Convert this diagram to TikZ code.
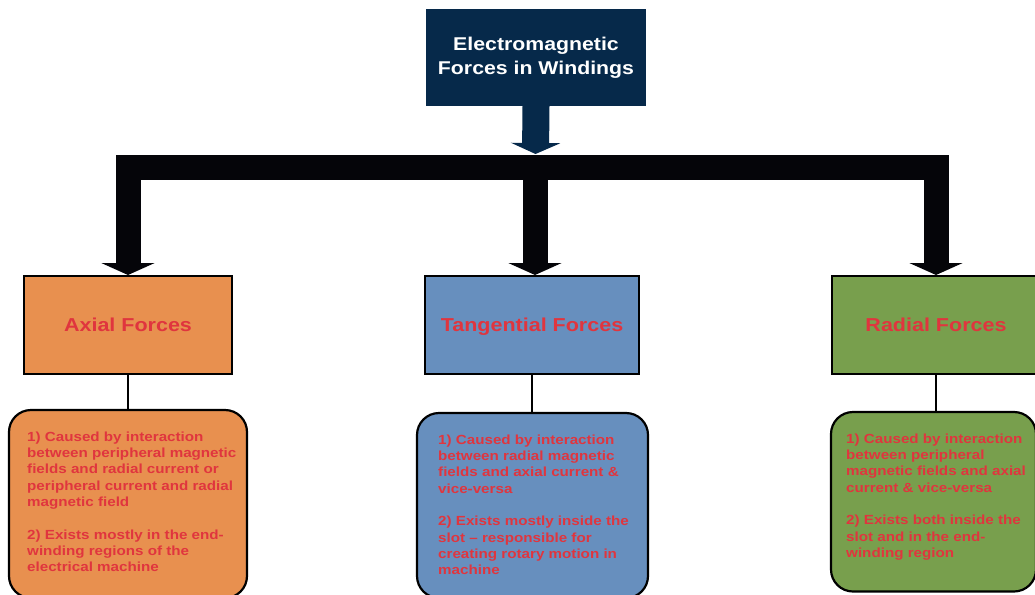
\documentclass[tikz,border=0pt]{standalone}
\usepackage{fontspec}
\setmainfont{Liberation Sans}[FakeStretch=1.15]
\usetikzlibrary{arrows.meta,calc}
\definecolor{navyc}{HTML}{06294A}
\definecolor{orangec}{HTML}{E8904F}
\definecolor{bluec}{HTML}{678FBE}
\definecolor{greenc}{HTML}{789F4D}
\definecolor{redc}{HTML}{E0353E}
\definecolor{blackc}{HTML}{050509}
\tikzset{
  topbox/.style={fill=navyc, draw=navyc, text=white, align=center,
    minimum width=219pt, minimum height=96pt, inner sep=0pt,
    font=\bfseries\fontsize{18.5}{24}\selectfont},
  catbox/.style={draw=black, line width=2pt, text=redc, inner sep=0pt,
    minimum width=208pt, minimum height=98pt, text height=13.3pt, text depth=0pt,
    font=\bfseries\fontsize{18.7}{22}\selectfont},
  detbox/.style={draw=black, line width=2.2pt, rounded corners=22pt, inner sep=0pt},
  dettext/.style={text=redc, align=left, inner sep=0pt, anchor=north west,
    font=\bfseries\fontsize{13.2}{16.3}\selectfont},
  bigarrow/.style={draw=blackc, line width=25pt, line join=miter},
  bighead/.tip={Triangle[width=53pt,length=12pt]},
  navyhead/.tip={Triangle[width=49pt,length=11pt]},
  link/.style={draw=black, line width=2pt}
}
\begin{document}
\begin{tikzpicture}[x=1pt,y=-1pt]
\useasboundingbox (0,0) rectangle (1035,594);
\clip (0,0) rectangle (1035,594);

\node[topbox] (top) at (536,57.5) {Electromagnetic\\Forces in Windings};

\node[catbox, fill=orangec] (axial) at (128,325) {Axial Forces};
\node[catbox, fill=bluec, minimum width=214pt] (tang) at (532,325) {Tangential Forces};
\node[catbox, fill=greenc] (radial) at (936,325) {Radial Forces};

\coordinate (hub) at (535,167);
\coordinate (navytip) at (535.5,154);

\draw[navyc, line width=27pt, -navyhead] (top.south) -- (navytip);
\draw[bigarrow, bighead-bighead] (axial.north) |- (hub) -| (radial.north);
\draw[bigarrow, -bighead] (hub) -- (hub |- tang.north);

\node[detbox, fill=orangec, minimum width=238pt, minimum height=188pt] (axd) at (128,504) {};
\node[detbox, fill=bluec, minimum width=231pt, minimum height=185pt] (tgd) at (532.5,505.5) {};
\node[detbox, fill=greenc, minimum width=205pt, minimum height=179.5pt] (rdd) at (933.5,501.75) {};

\draw[link] (axial.south) -- (axial.south |- axd.north);
\draw[link] (tang.south) -- (tang.south |- tgd.north);
\draw[link] (radial.south) -- (radial.south |- rdd.north);

\node[dettext] (axt) at (27,431) {\rule{0pt}{10pt}1) Caused by interaction\\between peripheral magnetic\\fields and radial current or\\peripheral current and radial\\magnetic field\\[16.3pt]2) Exists mostly in the end-\\winding regions of the\\electrical machine};
\node[dettext] (tgt) at (438,434) {\rule{0pt}{10pt}1) Caused by interaction\\between radial magnetic\\fields and axial current \&\\vice-versa\\[16.3pt]2) Exists mostly inside the\\slot -- responsible for\\creating rotary motion in\\machine};
\node[dettext] (rdt) at (846,433) {\rule{0pt}{10pt}1) Caused by interaction\\between peripheral\\magnetic fields and axial\\current \& vice-versa\\[16.3pt]2) Exists both inside the\\slot and in the end-\\winding region};
\end{tikzpicture}
\end{document}
